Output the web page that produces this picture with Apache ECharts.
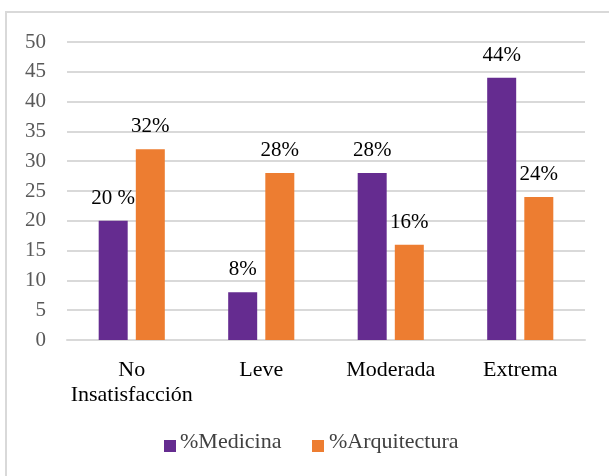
<!DOCTYPE html>
<html>
<head>
<meta charset="utf-8">
<script src="https://cdn.jsdelivr.net/npm/echarts@6/dist/echarts.min.js"></script>
<style>
  html, body { margin: 0; padding: 0; background: #ffffff; }
  #chart { width: 609px; height: 476px; }
</style>
</head>
<body>
<div id="chart"></div>
<script>
// Categories and series values
const categories = ['No\nInsatisfacción', 'Leve', 'Moderada', 'Extrema'];
const medicina = [20, 8, 28, 44];
const arquitectura = [32, 28, 16, 24];
const medicinaLabels = ['20 %', '8%', '28%', '44%'];
const arquitecturaLabels = ['32%', '28%', '16%', '24%'];
const seriesNames = ['%Medicina', '%Arquitectura'];
const yTicks = { min: 0, max: 50, interval: 5 };

const FONT = 'Liberation Serif';

// legend swatch placement; the names are set as serif titles beside each swatch
const legendSlots = [{ left: 164, textX: 180 }, { left: 312, textX: 329 }];
const LEGEND_TOP = 440;

const chart = echarts.init(document.getElementById('chart'), null, { renderer: 'canvas' });

function labelFor(texts) {
  return {
    show: true,
    position: 'top',
    distance: 12,
    color: '#000000',
    fontFamily: FONT,
    fontSize: 21,
    formatter: p => texts[p.dataIndex]
  };
}

chart.setOption({
  animation: false,
  backgroundColor: '#ffffff',
  textStyle: { fontFamily: FONT },
  graphic: [{
    type: 'rect',
    shape: { x: 6, y: 12, width: 640, height: 500 },
    style: { fill: 'none', stroke: '#d9d9d9', lineWidth: 2 },
    silent: true,
    z: -1
  }],
  title: seriesNames.map((name, i) => ({
    text: name,
    left: legendSlots[i].textX,
    top: LEGEND_TOP - 9,
    padding: 0,
    textStyle: {
      fontFamily: FONT,
      fontSize: 22,
      fontWeight: 'normal',
      color: '#404040'
    }
  })),
  grid: { left: 67, right: 24, top: 42, bottom: 136 },
  legend: seriesNames.map((name, i) => ({
    left: legendSlots[i].left,
    top: LEGEND_TOP,
    padding: 0,
    itemWidth: 12,
    itemHeight: 12,
    icon: 'rect',
    formatter: () => '',
    data: [name]
  })),
  xAxis: {
    type: 'category',
    data: categories,
    axisLine: { show: true, lineStyle: { color: '#d9d9d9', width: 2 } },
    axisTick: { show: false },
    axisLabel: {
      margin: 18,
      color: '#000000',
      fontFamily: FONT,
      fontSize: 22,
      lineHeight: 25,
      interval: 0
    }
  },
  yAxis: {
    type: 'value',
    min: yTicks.min,
    max: yTicks.max,
    interval: yTicks.interval,
    axisLine: { show: false },
    axisTick: { show: false },
    splitLine: { lineStyle: { color: '#d9d9d9', width: 2 } },
    axisLabel: {
      margin: 21,
      color: '#595959',
      fontFamily: FONT,
      fontSize: 21
    }
  },
  series: [
    {
      name: seriesNames[0],
      type: 'bar',
      data: medicina,
      barWidth: 29,
      barGap: '28%',
      itemStyle: { color: '#652c90' },
      label: labelFor(medicinaLabels)
    },
    {
      name: seriesNames[1],
      type: 'bar',
      data: arquitectura,
      barWidth: 29,
      itemStyle: { color: '#ed7d31' },
      label: labelFor(arquitecturaLabels)
    }
  ]
});
</script>
</body>
</html>
